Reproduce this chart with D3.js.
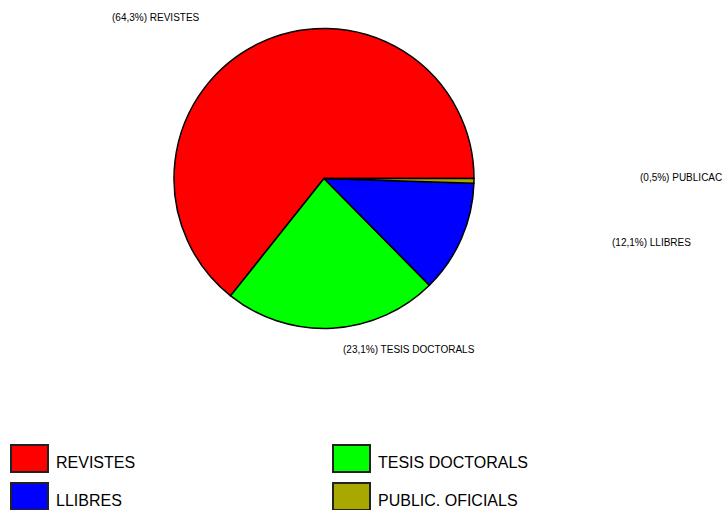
<!DOCTYPE html>
<html>
<head>
<meta charset="utf-8">
<script src="https://cdn.jsdelivr.net/npm/d3@7"></script>
<style>
  html, body { margin: 0; padding: 0; background: #fff; }
  svg { display: block; font-family: "Liberation Sans", Arial, sans-serif; }
</style>
</head>
<body>
<svg id="chart" width="725" height="510"></svg>
<script>
// Data
const categories = ["REVISTES", "TESIS DOCTORALS", "LLIBRES", "PUBLIC. OFICIALS"];
const values = [64.3, 23.1, 12.1, 0.5];
const colors = ["#FF0000", "#00FF00", "#0000FF", "#A8A800"];
const sliceLabels = ["(64,3%) REVISTES", "(23,1%) TESIS DOCTORALS", "(12,1%) LLIBRES", "(0,5%) PUBLICAC"];

// Layout
const cx = 324, cy = 178.5, r = 150;
const labelPos = [[112, 21], [343, 353], [612, 246], [640, 181]];

const svg = d3.select("#chart");
const data = categories.map((c, i) => ({ cat: c, value: values[i], color: colors[i], label: sliceLabels[i] }));

// Clockwise from east: PUBLIC, LLIBRES, TESIS, REVISTES
const order = [3, 2, 1, 0];
const pie = d3.pie()
  .value(d => d.value)
  .sort((a, b) => order.indexOf(categories.indexOf(a.cat)) - order.indexOf(categories.indexOf(b.cat)))
  .startAngle(Math.PI / 2)
  .endAngle(Math.PI / 2 + 2 * Math.PI);

const arc = d3.arc().innerRadius(0).outerRadius(r);

const g = svg.append("g").attr("transform", `translate(${cx},${cy})`);
g.selectAll("path")
  .data(pie(data))
  .join("path")
  .attr("d", arc)
  .attr("fill", d => d.data.color)
  .attr("stroke", "#000")
  .attr("stroke-width", 1.5)
  .attr("stroke-linejoin", "round");

svg.selectAll("text.slabel")
  .data(data)
  .join("text")
  .attr("class", "slabel")
  .attr("x", (d, i) => labelPos[i][0])
  .attr("y", (d, i) => labelPos[i][1])
  .attr("font-size", 10)
  .attr("fill", "#000")
  .text(d => d.label);

// Legend
const legendItems = [0, 1, 2, 3];
const legCols = [11, 333];
const legRows = [445, 483];
const lg = svg.append("g");
legendItems.forEach((i, k) => {
  const col = k % 2, row = Math.floor(k / 2);
  const x = legCols[col], y = legRows[row];
  lg.append("rect")
    .attr("x", x).attr("y", y)
    .attr("width", 37).attr("height", 27)
    .attr("fill", colors[i])
    .attr("stroke", "#222")
    .attr("stroke-width", 2);
  lg.append("text")
    .attr("x", x + 45).attr("y", y + 23)
    .attr("font-size", 16)
    .attr("fill", "#000")
    .text(categories[i]);
});
</script>
</body>
</html>
